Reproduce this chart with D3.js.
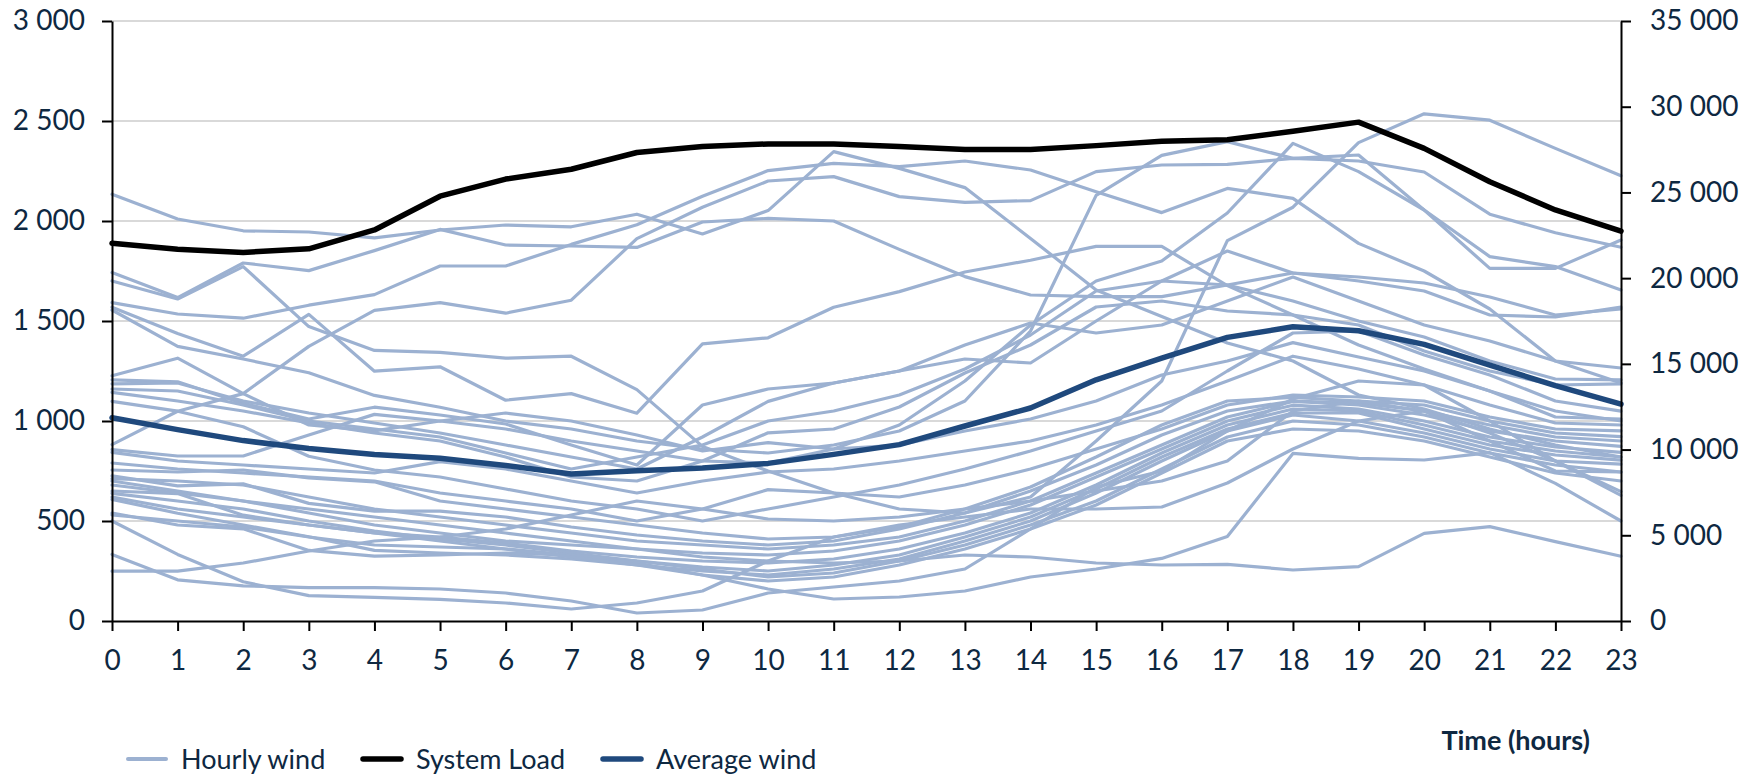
<!DOCTYPE html>
<html><head><meta charset="utf-8">
<script src="https://cdn.jsdelivr.net/npm/d3@7"></script>
<style>
body{margin:0;background:#fff}
text{font-family:Lato,"Open Sans",sans-serif}
</style>
</head><body>
<svg id="chart" width="1750" height="777"></svg>
<script>
// ---- categories & ticks ----
const hours = [0,1,2,3,4,5,6,7,8,9,10,11,12,13,14,15,16,17,18,19,20,21,22,23];
const leftTicks = [0,500,1000,1500,2000,2500,3000];
const rightTicks = [0,5000,10000,15000,20000,25000,30000,35000];

// ---- series (right axis) ----
const systemLoad = [22030,21690,21500,21710,22810,24780,25780,26350,27330,27680,27830,27830,27680,27500,27500,27730,27980,28070,28570,29100,27570,25620,23980,22740];
// ---- series (left axis) ----
const averageWind = [1016,957,902,863,833,814,778,735,751,765,788,833,882,975,1065,1206,1314,1418,1471,1451,1383,1279,1177,1084];

const day01 = [2134,2010,1951,1945,1916,1955,1980,1971,2034,1935,2052,2347,2263,2167,1913,1655,1522,1390,1300,1130,1060,960,880,820];
const day02 = [1742,1617,1790,1752,1852,1958,1880,1875,1868,1995,2013,2000,1858,1722,1630,1622,1622,1680,1740,1720,1690,1620,1530,1560];
const day03 = [1592,1535,1514,1579,1632,1775,1775,1883,1981,2124,2252,2288,2272,2300,2255,2146,2042,2163,2113,1888,1750,1560,1300,1190];
const day04 = [882,1049,1137,1373,1553,1592,1539,1604,1912,2069,2200,2222,2122,2093,2102,2247,2280,2283,2313,2300,2245,2034,1941,1869];
const day05 = [1700,1610,1772,1472,1353,1343,1314,1324,1157,873,750,640,560,540,620,900,1200,1902,2069,2392,2536,2504,2363,2226];
const day06 = [1569,1437,1324,1533,1249,1271,1104,1137,1039,1386,1416,1569,1647,1745,1804,1873,1873,1677,1530,1380,1260,1150,1050,1000];
const day07 = [1555,1373,1310,1241,1128,1069,1000,960,900,860,840,880,950,1100,1450,2128,2328,2397,2313,2330,2055,1822,1772,1655];
const day08 = [1226,1314,1137,980,951,1000,960,900,850,800,790,860,980,1200,1480,1700,1800,2040,2388,2247,2055,1763,1763,1905];
const day09 = [1206,1196,1088,1010,1069,1030,985,880,780,1080,1160,1190,1250,1310,1290,1500,1700,1850,1740,1700,1650,1530,1520,1569];
const day10 = [1186,1190,1100,1040,990,940,880,820,760,920,1098,1190,1250,1380,1490,1440,1480,1600,1720,1600,1480,1400,1300,1265];
const day11 = [1160,1150,1080,1000,960,920,840,760,820,880,1000,1050,1130,1260,1430,1650,1700,1680,1600,1500,1420,1300,1210,1206];
const day12 = [1143,1100,1050,990,940,900,820,720,700,800,941,960,1070,1240,1380,1570,1600,1550,1530,1480,1350,1250,1180,1186];
const day13 = [1098,1049,971,824,755,720,660,600,560,500,560,620,680,760,850,950,1050,1250,1440,1450,1330,1230,1100,1049];
const day14 = [857,825,825,930,1033,1000,1040,1000,930,850,892,860,880,950,1010,1100,1230,1300,1392,1320,1250,1150,1020,1010];
const day15 = [843,800,780,760,740,797,760,700,640,700,745,760,800,850,900,980,1080,1200,1324,1260,1180,1080,990,980];
const day16 = [790,760,740,720,700,640,600,560,500,560,657,640,620,680,760,860,960,1080,1130,1120,1100,1020,960,951];
const day17 = [755,745,755,716,696,600,560,520,480,440,410,420,470,560,670,820,980,1100,1118,1100,1080,1000,940,922];
const day18 = [726,676,686,588,549,549,520,470,430,400,380,400,460,540,650,780,930,1050,1100,1090,1050,980,920,900];
const day19 = [712,700,680,620,560,520,480,440,400,380,360,380,420,500,600,740,880,1020,1098,1080,1030,950,900,873];
const day20 = [700,650,600,540,480,440,400,380,360,340,330,350,400,480,580,720,860,1000,1079,1060,1000,920,870,843];
const day21 = [650,637,529,480,441,420,390,350,320,300,290,310,360,440,540,680,840,980,1060,1050,980,900,850,820];
const day22 = [638,600,560,500,450,410,380,340,300,270,250,280,330,420,520,660,820,960,1040,1040,960,880,830,804];
const day23 = [608,539,480,421,353,340,330,310,280,250,230,260,310,400,500,640,800,950,1030,1000,940,860,800,784];
const day24 = [540,480,461,353,324,330,340,330,300,260,220,240,300,380,480,600,760,920,1000,980,920,840,780,745];
const day25 = [530,500,470,420,380,370,360,330,290,230,200,220,280,360,460,580,740,900,960,950,900,820,740,700];
const day26 = [500,333,196,127,118,108,90,60,90,150,300,420,480,520,560,560,570,690,860,1000,1050,940,800,647];
const day27 = [333,206,176,167,167,160,140,100,40,55,140,170,200,260,460,670,750,950,1110,1200,1180,1000,800,628];
const day28 = [249,249,290,350,400,420,460,530,600,560,510,500,520,560,600,650,700,800,1050,1100,1050,900,750,745];
const day29 = [620,560,520,480,440,400,360,320,280,230,160,110,120,150,220,260,313,422,838,813,805,842,688,500];
const day30 = [680,640,600,560,520,480,440,400,360,320,300,290,300,330,320,290,280,283,255,272,438,472,397,324];
const hourlyWind = [day01,day02,day03,day04,day05,day06,day07,day08,day09,day10,day11,day12,day13,day14,day15,
  day16,day17,day18,day19,day20,day21,day22,day23,day24,day25,day26,day27,day28,day29,day30];

const legendItems = ["Hourly wind","System Load","Average wind"];
const xTitle = "Time (hours)";

// ---- drawing ----
const TXT = "#0E2841";
const C_HOURLY = "#9CB1D1", C_LOAD = "#000000", C_AVG = "#1F497D";
const svg = d3.select("#chart");
const x = d3.scaleLinear().domain([0,23]).range([112,1621]);
const yL = d3.scaleLinear().domain([0,3000]).range([621,21]);
const yR = d3.scaleLinear().domain([0,35000]).range([621,21]);
const fmt = v => d3.format(",")(v).replace(/,/g," ");

// gridlines
svg.append("g").selectAll("line").data(leftTicks.filter(d=>d>0)).join("line")
  .attr("x1",x(0)).attr("x2",x(23)).attr("y1",d=>yL(d)).attr("y2",d=>yL(d))
  .attr("stroke","#D9D9D9").attr("stroke-width",2);

// lines
const lineL = d3.line().x((d,i)=>x(hours[i])).y(d=>yL(d));
const lineR = d3.line().x((d,i)=>x(hours[i])).y(d=>yR(d));
svg.append("g").selectAll("path").data(hourlyWind).join("path")
  .attr("d",lineL).attr("fill","none").attr("stroke",C_HOURLY)
  .attr("stroke-width",3.2).attr("stroke-linejoin","round").attr("stroke-linecap","round");
svg.append("path").datum(systemLoad).attr("d",lineR).attr("fill","none")
  .attr("stroke",C_LOAD).attr("stroke-width",5.5).attr("stroke-linejoin","round").attr("stroke-linecap","round");
svg.append("path").datum(averageWind).attr("d",lineL).attr("fill","none")
  .attr("stroke",C_AVG).attr("stroke-width",5.5).attr("stroke-linejoin","round").attr("stroke-linecap","round");

// axes
function styleAxis(g){
  g.selectAll("path.domain").attr("stroke","#000").attr("stroke-width",2);
  g.selectAll(".tick line").attr("stroke","#000").attr("stroke-width",2);
  g.selectAll("text").attr("fill",TXT).style("font-size","28px").style("font-family","Lato, 'Open Sans', sans-serif");
}
svg.append("g").attr("transform",`translate(${x(0)},0)`)
  .call(d3.axisLeft(yL).tickValues(leftTicks).tickFormat(fmt).tickSize(10).tickSizeOuter(0).tickPadding(17))
  .call(styleAxis);
svg.append("g").attr("transform",`translate(${x(23)},0)`)
  .call(d3.axisRight(yR).tickValues(rightTicks).tickFormat(fmt).tickSize(10).tickSizeOuter(0).tickPadding(19))
  .call(styleAxis);
svg.append("g").attr("transform",`translate(0,${yL(0)})`)
  .call(d3.axisBottom(x).tickValues(hours).tickFormat(d=>String(d)).tickSize(10).tickSizeOuter(0).tickPadding(19))
  .call(styleAxis);

// axis title
svg.append("text").attr("x",1590).attr("y",739).attr("text-anchor","end").attr("dominant-baseline","central")
  .attr("fill",TXT).style("font-size","27px").style("font-weight","bold").text(xTitle);

// legend
const legX = [128,363,603];
const legColor = [C_HOURLY,C_LOAD,C_AVG];
const legWidth = [4,5.5,5.5];
const lg = svg.append("g").selectAll("g").data(legendItems).join("g");
lg.append("line").attr("x1",(d,i)=>legX[i]).attr("x2",(d,i)=>legX[i]+38).attr("y1",759).attr("y2",759)
  .attr("stroke",(d,i)=>legColor[i]).attr("stroke-width",(d,i)=>legWidth[i]).attr("stroke-linecap","round");
lg.append("text").attr("x",(d,i)=>legX[i]+53).attr("y",758).attr("dominant-baseline","central")
  .attr("fill",TXT).style("font-size","27px").text(d=>d);
</script>
</body></html>
